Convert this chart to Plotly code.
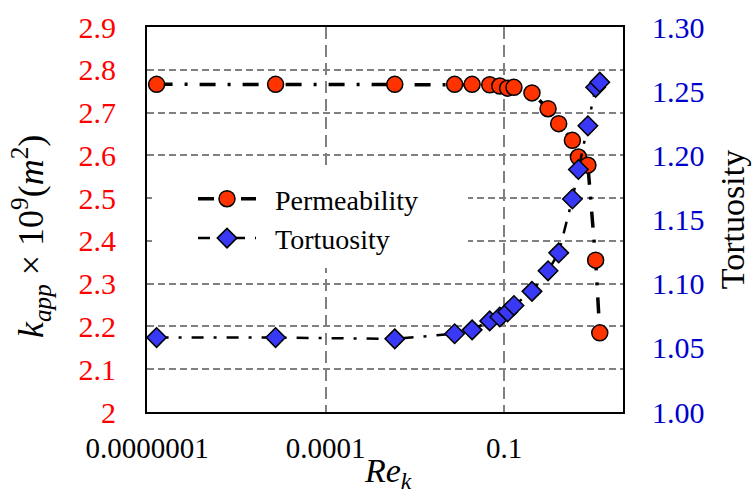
import plotly.graph_objects as go

re_k = [1.45e-7, 1.45e-5, 1.46e-3, 0.0148, 0.0291, 0.0575, 0.085, 0.115, 0.147,
        0.295, 0.55, 0.83, 1.41, 1.78, 2.57, 3.47, 4.07]
permeability = [2.766, 2.766, 2.766, 2.766, 2.766, 2.765, 2.762, 2.757, 2.759,
                2.746, 2.709, 2.674, 2.635, 2.596, 2.577, 2.355, 2.185]
tortuosity = [1.058, 1.058, 1.057, 1.061, 1.064, 1.071, 1.074, 1.078, 1.083,
              1.094, 1.110, 1.124, 1.166, 1.189, 1.223, 1.253, 1.257]

x_tickvals = [1e-7, 1e-4, 1e-1]
x_ticktext = ["0.0000001", "0.0001", "0.1"]
y_tickvals = [2.0, 2.1, 2.2, 2.3, 2.4, 2.5, 2.6, 2.7, 2.8, 2.9]
y_ticktext = ["2", "2.1", "2.2", "2.3", "2.4", "2.5", "2.6", "2.7", "2.8", "2.9"]
y2_tickvals = [1.00, 1.05, 1.10, 1.15, 1.20, 1.25, 1.30]

FONT = "Liberation Serif"
NB = "\u00a0\u00a0"

fig = go.Figure()
fig.add_trace(go.Scatter(
    x=re_k, y=permeability, name=NB + "Permeability", mode="lines+markers",
    line=dict(color="black", width=3.5, dash="16px,12px,3px,12px"),
    marker=dict(symbol="circle", size=16, color="#FF3300",
                line=dict(color="black", width=1.5)),
    yaxis="y"))
fig.add_trace(go.Scatter(
    x=re_k, y=tortuosity, name=NB + "Tortuosity", mode="lines+markers",
    line=dict(color="black", width=2.5, dash="12px,10px,3px,10px"),
    marker=dict(symbol="diamond", size=15, color="#3838F5",
                line=dict(color="black", width=1.5)),
    yaxis="y2"))

# white box behind the legend that hides the grid lines (pixel-derived position)
fig.add_shape(type="rect", xref="x", yref="y",
              x0=10 ** (-7 + 5 / 59.5), x1=10 ** (-7 + 321 / 59.5),
              y0=2.0 + 144 / 428, y1=2.0 + 244 / 428,
              fillcolor="white", line=dict(width=0), layer="between")

# axis titles placed as annotations for exact positioning
fig.add_annotation(xref="paper", yref="paper", x=(31 - 147) / 476, y=(412 - 237) / 385,
                   text="<i>k<sub>app</sub></i> × 10<sup>9</sup>(<i>m</i><sup>2</sup>)",
                   textangle=-90, showarrow=False, xanchor="center", yanchor="middle",
                   font=dict(family=FONT, size=36, color="black"))
fig.add_annotation(xref="paper", yref="paper", x=(388 - 147) / 476, y=(412 - 473) / 385,
                   text="<i>Re<sub>k</sub></i>", showarrow=False,
                   xanchor="center", yanchor="middle",
                   font=dict(family=FONT, size=34, color="black"))

fig.update_layout(
    width=753, height=493,
    margin=dict(l=147, r=130, t=27, b=81),
    paper_bgcolor="white", plot_bgcolor="white",
    font=dict(family=FONT, size=28, color="black"),
    showlegend=True,
    legend=dict(x=(193 - 147) / 476, y=(412 - 174) / 385, xanchor="left", yanchor="top",
                bgcolor="rgba(0,0,0,0)", font=dict(family=FONT, size=28),
                itemwidth=58, tracegroupgap=0),
    xaxis=dict(type="log", range=[-7, 1], tickvals=x_tickvals, ticktext=x_ticktext,
               showgrid=True, gridcolor="#808080", gridwidth=1.5, griddash="12px,6px",
               showline=True, linecolor="black", linewidth=2, mirror=True,
               ticks="", ticklabelstandoff=9, zeroline=False, automargin=False,
               tickfont=dict(family=FONT, size=29, color="black")),
    yaxis=dict(range=[2.0, 2.9], tickvals=y_tickvals, ticktext=y_ticktext,
               showgrid=True, gridcolor="#808080", gridwidth=1.5, griddash="7px,4px",
               showline=True, linecolor="black", linewidth=2, mirror=True,
               ticks="", ticklabelstandoff=23, zeroline=False, automargin=False,
               tickfont=dict(family=FONT, size=30, color="#FF0000")),
    yaxis2=dict(range=[1.0, 1.3], tickvals=y2_tickvals, tickformat=".2f",
                overlaying="y", side="right", showgrid=False, zeroline=False,
                ticks="", ticklabelstandoff=28, automargin=False,
                tickfont=dict(family=FONT, size=30, color="#0000CC"),
                title=dict(text="Tortuosity", font=dict(family=FONT, size=34), standoff=16)),
)

fig.write_html("out.html")
